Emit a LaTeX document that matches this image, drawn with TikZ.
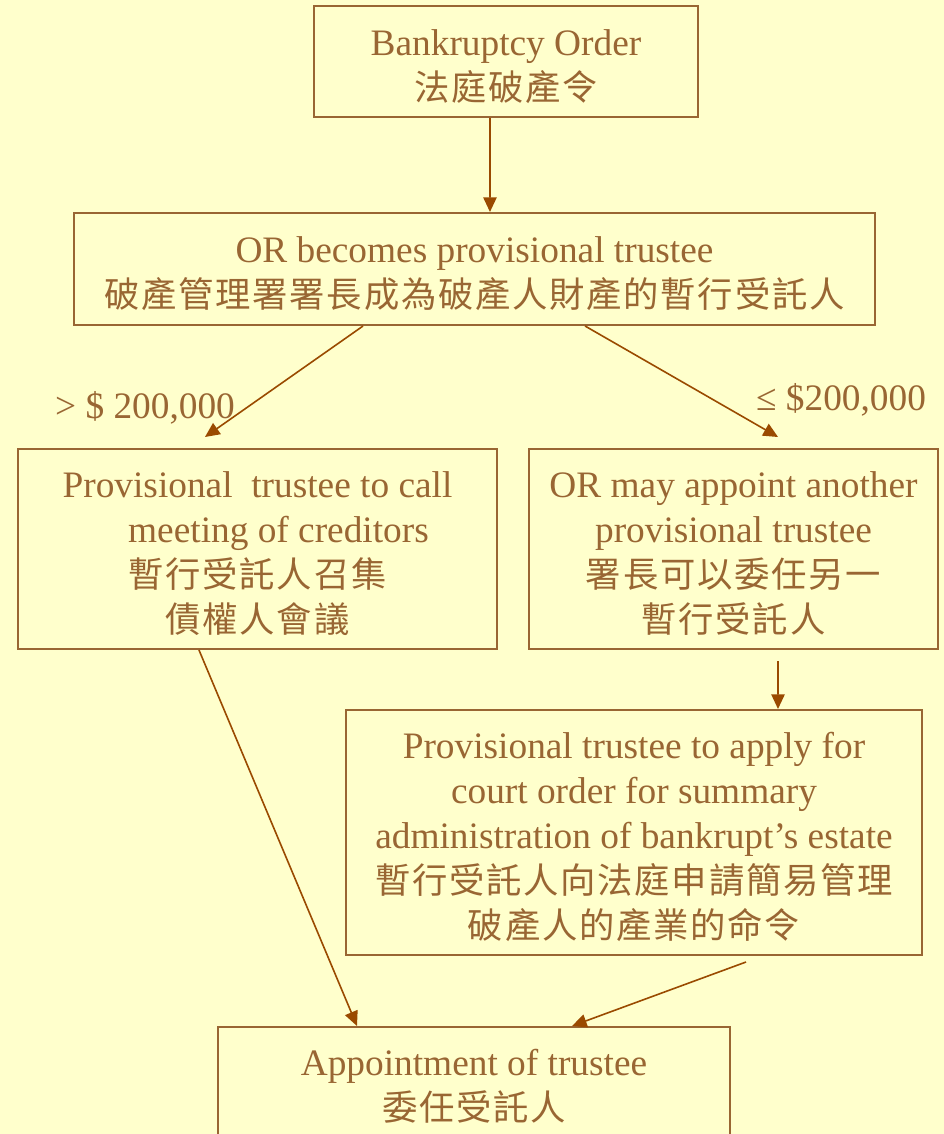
\documentclass[tikz,border=0pt]{standalone}
\usepackage{fontspec}
\setmainfont{Liberation Serif}
\newfontfamily\cjk[LetterSpace=5]{Noto Sans CJK TC}
\newcommand\zh[1]{{\cjk\fontsize{26.5pt}{33.75pt}\selectfont #1}}
\usetikzlibrary{arrows.meta}
\definecolor{bg}{HTML}{FFFFCC}
\definecolor{txt}{HTML}{996633}
\definecolor{arr}{HTML}{9A4A00}
\tikzset{
  box/.style={draw=txt, line width=1.5pt, rectangle, inner sep=0pt},
  boxtext/.style={align=center, text=txt, inner sep=0pt, yshift=-3.5pt,
    font=\fontsize{28pt}{33.75pt}\selectfont},
  lbl/.style={text=txt, inner sep=0pt, font=\fontsize{28pt}{33.75pt}\selectfont},
  conn/.style={draw=arr, line width=1.2pt, -{Triangle[length=11pt,width=10pt]}}
}
\begin{document}
\begin{tikzpicture}[x=0.75pt,y=-0.75pt]
\useasboundingbox (0,0) rectangle (944,1134);
\clip (0,0) rectangle (944,1134);
\fill[bg] (0,0) rectangle (944,1134);

\node[box, minimum width=288pt, minimum height=83.25pt,
  label={[boxtext]center:Bankruptcy Order\\ \zh{法庭破產令}}] (a) at (506,61.5) {};
\node[box, minimum width=600.75pt, minimum height=84pt,
  label={[boxtext]center:OR becomes provisional trustee\\ \zh{破產管理署署長成為破產人財產的暫行受託人}}] (b) at (474.5,269) {};
\node[box, minimum width=359.25pt, minimum height=150pt,
  label={[boxtext]center:Provisional~ trustee to call\\ \hspace*{31.5pt}meeting of creditors\\ \zh{暫行受託人召集}\\ \zh{債權人會議}}] (c) at (257.5,549) {};
\node[box, minimum width=306.75pt, minimum height=150pt,
  label={[boxtext]center:OR may appoint another\\ provisional trustee\\ \zh{署長可以委任另一}\\ \zh{暫行受託人}}] (d) at (733.5,549) {};
\node[box, minimum width=432pt, minimum height=183.75pt,
  label={[boxtext]center:Provisional trustee to apply for\\ court order for summary\\ administration of bankrupt’s estate\\ \zh{暫行受託人向法庭申請簡易管理}\\ \zh{破產人的產業的命令}}] (e) at (634,832.5) {};
\node[box, minimum width=384pt, minimum height=82.5pt,
  label={[boxtext]center:Appointment of trustee\\ \zh{委任受託人}}] (f) at (474,1082) {};

\node[lbl] (l1) at (145,408) {> \$ 200,000};
\node[lbl] (l2) at (841,400) {≤ \$200,000};

\draw[conn] ([xshift=-12pt]a.south) -- ([xshift=11.6pt]b.north);
\draw[conn] ([xshift=-83.6pt]b.south) -- ([xshift=-39.4pt,yshift=8.25pt]c.north);
\draw[conn] ([xshift=82.9pt]b.south) -- ([xshift=33.4pt,yshift=8.25pt]d.north);
\draw[conn] ([xshift=33.4pt,yshift=-8.25pt]d.south) -- ([xshift=108pt]e.north);
\draw[conn] ([xshift=84pt,yshift=-4.5pt]e.south) -- ([xshift=73.5pt]f.north);
\draw[conn] ([xshift=-43.9pt]c.south) -- ([xshift=-87.75pt]f.north);
\end{tikzpicture}
\end{document}
